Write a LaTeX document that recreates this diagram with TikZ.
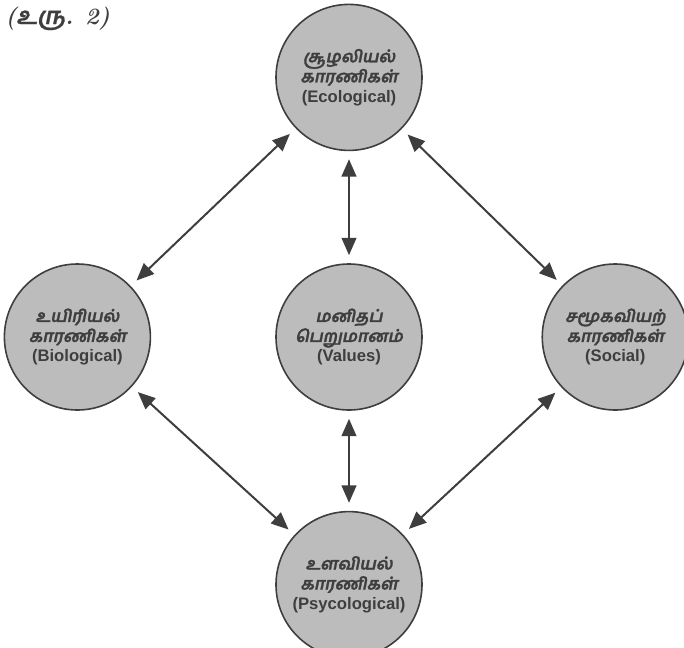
\documentclass[tikz,border=0pt]{standalone}
\usepackage{fontspec}
\setsansfont{Liberation Sans}
\newfontfamily\tamilfont[Script=Tamil,FakeSlant=0.2,FakeBold=1.5]{Hind Madurai}
\newfontfamily\tamilcap[Script=Tamil,FakeSlant=0.2,FakeBold=1]{Hind Madurai}
\usetikzlibrary{positioning,arrows.meta}
\definecolor{discfill}{RGB}{188,188,188}
\definecolor{inkgray}{RGB}{62,62,62}
\newcommand{\ta}[1]{{\tamilfont #1}}

\begin{document}
\begin{tikzpicture}[
		every node/.style={ text width=8.5em,
			align=center,
			font=\fontsize{12.5}{15}\selectfont\sffamily\bfseries,
			text=inkgray,
			inner sep=0pt,
		},
		factor/.style={circle, draw=inkgray, line width=1.2pt, fill=discfill, minimum size=109.5pt},
		link/.style={{Triangle[length=13pt,width=11pt]}-{Triangle[length=13pt,width=11pt]},
			line width=1.5pt, draw=inkgray, shorten >=6pt, shorten <=6pt},
		]

		\useasboundingbox (-261.75pt,-232.5pt) rectangle (251.25pt,252.75pt);

		\node (values) [factor] {\ta{மனிதப்}\\\ta{பெறுமானம்}\\(Values)};
		\node (eco) [factor, above = 84pt of values] {\ta{சூழலியல்}\\\ta{காரணிகள்}\\(Ecological)};
		\node (bio) [factor, left = 93pt of values] {\ta{உயிரியல்}\\\ta{காரணிகள்}\\(Biological)};
		\node (soc) [factor, right = 89pt of values] {\ta{சமூகவியற்}\\\ta{காரணிகள்}\\(Social)};
		\node (psy) [factor, below = 75pt of values] {\ta{உளவியல்}\\\ta{காரணிகள்}\\(Psycological)};
		\node (caption) [anchor=west, text width=8em, align=left,
			font=\fontsize{17.5}{20}\selectfont\rmfamily\bfseries\itshape] at (-258pt,239pt) {({\tamilcap உரு}. 2)};

		\draw[link] (eco) -- (bio);
		\draw[link] (eco) -- (values);
		\draw[link] (eco) -- (soc);
		\draw[link] (bio) -- (psy);
		\draw[link] (values) -- (psy);
		\draw[link] (soc) -- (psy);

	\end{tikzpicture}
\end{document}
